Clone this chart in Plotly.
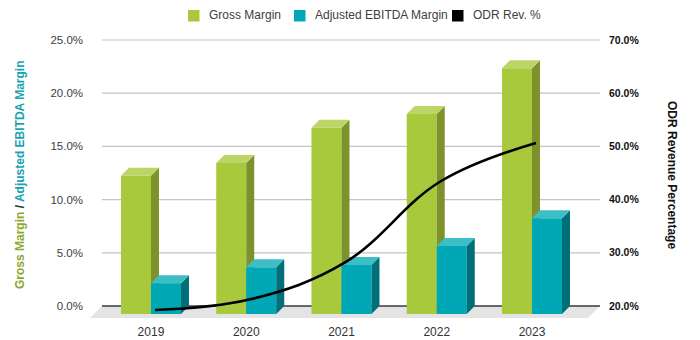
import plotly.graph_objects as go

# ---- data -------------------------------------------------------------
years = ["2019", "2020", "2021", "2022", "2023"]
gross_margin = [13.0, 14.2, 17.5, 18.8, 23.1]      # % (left axis)
ebitda_margin = [2.9, 4.4, 4.6, 6.4, 9.0]          # % (left axis)
odr_rev_pct = [20.0, 22.0, 29.0, 44.2, 51.4]       # % (right axis)

left_ticks = [0, 5, 10, 15, 20, 25]
right_ticks = [20, 30, 40, 50, 60, 70]
left_labels = [f"{t:.1f}%" for t in left_ticks]
right_labels = [f"{t:.1f}%" for t in right_ticks]

# ---- styling / pseudo-3D geometry (in axis units) ----------------------
GREEN = dict(front="#A9C93C", side="#7E922C", top="#BCD566")
TEAL = dict(front="#00A8B6", side="#006F78", top="#3DBDC6")
BAR_W = 0.315          # width of a bar's front face (category units)
DX, DY = 0.084, 0.752  # depth of a bar: shift right / up of its back face
FX, FY = 0.126, 1.128  # depth of the floor
X_RANGE = [-0.640, 4.714]
Y_RANGE = [-FY, 25.376]
# right axis is a linear map of the left one: 0 -> 20 %, 25 -> 70 %
R_SCALE = (right_ticks[-1] - right_ticks[0]) / (left_ticks[-1] - left_ticks[0])
Y3_RANGE = [right_ticks[0] + R_SCALE * v for v in Y_RANGE]
FONT = "Liberation Sans, Arial, sans-serif"

idx = list(range(len(years)))


def faces(values, offset):
    """Side and top polygons of each bar, separated by None."""
    sx, sy, tx, ty = [], [], [], []
    for i, v in zip(idx, values):
        x0 = i + offset
        x1 = x0 + BAR_W
        sx += [x1, x1 + DX, x1 + DX, x1, x1, None]
        sy += [-DY, 0, v, v - DY, -DY, None]
        tx += [x0, x0 + DX, x1 + DX, x1, x0, None]
        ty += [v - DY, v, v, v - DY, v - DY, None]
    return sx, sy, tx, ty


def bar_series(values, offset, colors, name, yaxis):
    sx, sy, tx, ty = faces(values, offset)
    return [
        go.Bar(x=idx, y=values, base=-DY, width=BAR_W, offset=offset,
               marker=dict(color=colors["front"], line=dict(width=0)),
               name=name, showlegend=False, yaxis=yaxis, hoverinfo="skip"),
        go.Scatter(x=sx, y=sy, fill="toself", fillcolor=colors["side"],
                   mode="lines", line=dict(width=0), showlegend=False,
                   yaxis=yaxis, hoverinfo="skip"),
        go.Scatter(x=tx, y=ty, fill="toself", fillcolor=colors["top"],
                   mode="lines", line=dict(width=0), showlegend=False,
                   yaxis=yaxis, hoverinfo="skip"),
    ]


fig = go.Figure()
for tr in bar_series(gross_margin, -BAR_W, GREEN, "Gross Margin", "y"):
    fig.add_trace(tr)
for tr in bar_series(ebitda_margin, 0.0, TEAL, "Adjusted EBITDA Margin", "y2"):
    fig.add_trace(tr)

# ODR revenue line, drawn at mid-depth of the bars
fig.add_trace(go.Scatter(
    x=[i + DX / 2 for i in idx],
    y=[v - R_SCALE * DY / 2 for v in odr_rev_pct],
    mode="lines", line=dict(color="black", width=2.6, shape="spline", smoothing=1.1),
    name="ODR Rev. %", showlegend=False, yaxis="y3", hoverinfo="skip"))

# floor and back-wall gridlines
shapes = [dict(
    type="path", xref="x", yref="y", layer="below", line=dict(width=0),
    fillcolor="#E4E4E4",
    path=(f"M {X_RANGE[0]},{-FY} L {X_RANGE[0] + FX},0 "
          f"L {X_RANGE[1]},0 L {X_RANGE[1] - FX},{-FY} Z"))]
for t in left_ticks:
    shapes.append(dict(
        type="line", xref="x", yref="y", layer="below",
        x0=X_RANGE[0] + FX, x1=X_RANGE[1], y0=t, y1=t,
        line=dict(color="#3A3A3A" if t == 0 else "#C4C4C4",
                  width=1.6 if t == 0 else 1.2)))

# legend: coloured squares + labels (paper coordinates)
PLOT_L, PLOT_W, PLOT_B, PLOT_H = 90, 510, 318, 282


def px_x(px):
    return (px - PLOT_L) / PLOT_W


def px_y(py):
    return (PLOT_B - py) / PLOT_H


legend_items = [("Gross Margin", GREEN["front"], 188),
                ("Adjusted EBITDA Margin", TEAL["front"], 294),
                ("ODR Rev. %", "#000000", 452)]
annotations = []
for label, color, sq_x in legend_items:
    shapes.append(dict(type="rect", xref="paper", yref="paper",
                       x0=px_x(sq_x), x1=px_x(sq_x + 11.5),
                       y0=px_y(21.5), y1=px_y(10),
                       fillcolor=color, line=dict(width=0)))
    annotations.append(dict(xref="paper", yref="paper", x=px_x(sq_x + 19),
                            y=px_y(15.5), xanchor="left", yanchor="middle",
                            text=label, showarrow=False,
                            font=dict(family=FONT, size=12, color="#404040")))

annotations.append(dict(
    xref="paper", yref="paper", x=px_x(20), y=px_y(175),
    xanchor="center", yanchor="middle", textangle=-90, showarrow=False,
    text=("<b><span style='color:#8DA72E'>Gross Margin</span>"
          "<span style='color:#333333'> / </span>"
          "<span style='color:#17A4B0'>Adjusted EBITDA Margin</span></b>"),
    font=dict(family=FONT, size=12)))
annotations.append(dict(
    xref="paper", yref="paper", x=px_x(672), y=px_y(175),
    xanchor="center", yanchor="middle", textangle=90, showarrow=False,
    text="<b>ODR Revenue Percentage</b>",
    font=dict(family=FONT, size=12, color="#111111")))

fig.update_layout(
    width=700, height=340,
    margin=dict(l=PLOT_L, r=700 - PLOT_L - PLOT_W, t=PLOT_B - PLOT_H, b=340 - PLOT_B),
    paper_bgcolor="white", plot_bgcolor="white",
    barmode="overlay", showlegend=False,
    shapes=shapes, annotations=annotations,
    xaxis=dict(range=X_RANGE, tickvals=idx, ticktext=years, showgrid=False,
               zeroline=False, showline=False, ticks="", ticklabelstandoff=5,
               automargin=False,
               tickfont=dict(family=FONT, size=12, color="#333333")),
    yaxis=dict(range=Y_RANGE, tickvals=left_ticks, ticktext=left_labels,
               showgrid=False, zeroline=False, showline=False, ticks="",
               ticklabelstandoff=6, automargin=False,
               tickfont=dict(family=FONT, size=11.5, color="#404040")),
    yaxis2=dict(range=Y_RANGE, overlaying="y", visible=False),
    yaxis3=dict(range=Y3_RANGE, overlaying="y", side="right",
                tickvals=right_ticks, ticktext=right_labels,
                showgrid=False, zeroline=False, showline=False, ticks="",
                ticklabelstandoff=8, automargin=False,
                tickfont=dict(family=FONT, size=10.5, color="#111111", weight="bold")),
)

fig.write_html("out.html")
